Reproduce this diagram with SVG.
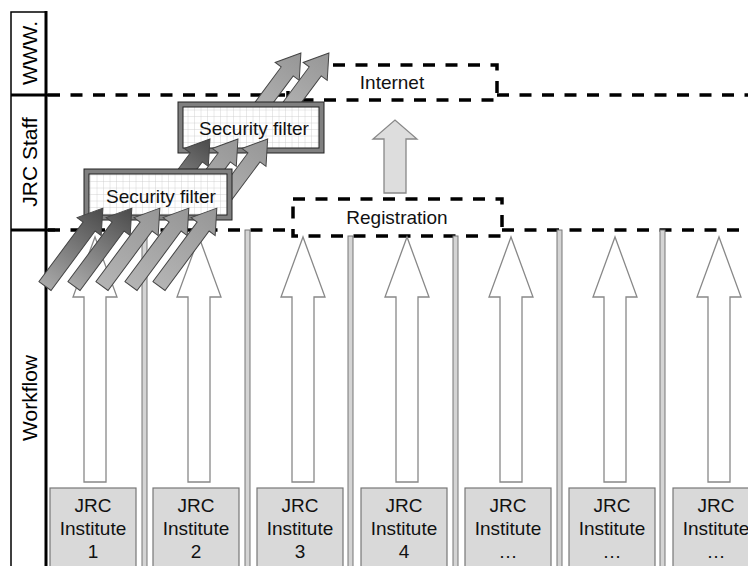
<svg xmlns="http://www.w3.org/2000/svg" xmlns:xlink="http://www.w3.org/1999/xlink" width="748" height="566" viewBox="0 0 748 566">
<style>
text{font-family:"Liberation Sans",Arial,sans-serif;font-size:19px;fill:#111}
.mid{text-anchor:middle}
.lbl{font-size:21px;fill:#000}
.dash{fill:none;stroke:#000;stroke-width:3.5;stroke-dasharray:12 10.5}
.bar{fill:#d4d4d4;stroke:#777;stroke-width:1}
.warrow{fill:#fff;stroke:#888;stroke-width:1.3}
.inst{fill:#d9d9d9;stroke:#777;stroke-width:1.2}
.fout{fill:#808080;stroke:#222;stroke-width:1}
.fin{fill:url(#grid);stroke:#222;stroke-width:1}
.sa{stroke:#444;stroke-width:1}
.dark{fill:url(#gDark)}
.light{fill:url(#gLight)}
</style>
<defs>
<pattern id="grid" width="6.5" height="6.5" patternUnits="userSpaceOnUse">
<rect width="6.5" height="6.5" fill="#fff"/>
<path d="M6.5 0V6.5M0 6.5H6.5" stroke="#c8c8c8" stroke-width="0.8" fill="none"/>
</pattern>
<linearGradient id="gDark" x1="0" y1="0" x2="1" y2="0">
<stop offset="0" stop-color="#a8a8a8"/>
<stop offset="1" stop-color="#4a4a4a"/>
</linearGradient>
<linearGradient id="gLight" x1="0" y1="0" x2="1" y2="0">
<stop offset="0" stop-color="#b4b4b4"/>
<stop offset="1" stop-color="#969696"/>
</linearGradient>
<path id="sa97" d="M0 -7.5H74V-15L97 0L74 15V7.5H0Z"/>
<path id="sa90" d="M0 -7.5H67V-15L90 0L67 15V7.5H0Z"/>
<path id="sa80" d="M0 -7.5H57V-15L80 0L57 15V7.5H0Z"/>
<path id="wa" d="M-11 482V297H-22L0 237L22 297H11V482Z"/>
</defs>

<g id="lanes">
<rect x="11" y="12" width="35" height="560" fill="#fff" stroke="#000" stroke-width="1.5"/>
<line x1="46" y1="11" x2="46" y2="566" stroke="#000" stroke-width="3"/>
<line x1="11" y1="95" x2="48" y2="95" stroke="#000" stroke-width="3"/>
<line x1="11" y1="230" x2="55" y2="230" stroke="#000" stroke-width="3"/>
<text class="mid lbl" transform="translate(36.5,53) rotate(-90)">WWW.</text>
<text class="mid lbl" transform="translate(36.5,162) rotate(-90)">JRC Staff</text>
<text class="mid lbl" transform="translate(36.5,398) rotate(-90)">Workflow</text>
</g>

<g id="connectors">
<path class="dash" d="M48 95H288M497 95H748"/>
<path class="dash" d="M48 230H293M502 230H748"/>
</g>

<g id="internet">
<rect class="dash" x="288" y="65" width="209" height="35"/>
<text class="mid" x="392" y="89">Internet</text>
</g>

<g id="registration">
<rect class="dash" x="293" y="199" width="209" height="37"/>
<text class="mid" x="397" y="224">Registration</text>
</g>

<g id="reg-arrow">
<path d="M384 193V139H373L395 120L417 139H406V193Z" fill="#ddd" stroke="#888" stroke-width="1.3"/>
</g>

<g id="dividers">
<rect class="bar" x="142" y="230" width="5" height="340"/>
<rect class="bar" x="245" y="230" width="5" height="340"/>
<rect class="bar" x="348" y="236" width="5" height="334"/>
<rect class="bar" x="453" y="236" width="5" height="334"/>
<rect class="bar" x="557" y="230" width="5" height="340"/>
<rect class="bar" x="660" y="230" width="5" height="340"/>
</g>

<g id="workflow-arrows">
<use href="#wa" class="warrow" transform="translate(95,0)"/>
<use href="#wa" class="warrow" transform="translate(199,0)"/>
<use href="#wa" class="warrow" transform="translate(303,0)"/>
<use href="#wa" class="warrow" transform="translate(407,0)"/>
<use href="#wa" class="warrow" transform="translate(511,0)"/>
<use href="#wa" class="warrow" transform="translate(615,0)"/>
<use href="#wa" class="warrow" transform="translate(719,0)"/>
</g>

<g id="institute-1"><rect class="inst" x="50" y="488" width="86" height="100"/><text class="mid" x="93" y="512">JRC</text><text class="mid" x="93" y="535">Institute</text><text class="mid" x="93" y="558">1</text></g>
<g id="institute-2"><rect class="inst" x="153" y="488" width="86" height="100"/><text class="mid" x="196" y="512">JRC</text><text class="mid" x="196" y="535">Institute</text><text class="mid" x="196" y="558">2</text></g>
<g id="institute-3"><rect class="inst" x="257" y="488" width="86" height="100"/><text class="mid" x="300" y="512">JRC</text><text class="mid" x="300" y="535">Institute</text><text class="mid" x="300" y="558">3</text></g>
<g id="institute-4"><rect class="inst" x="361" y="488" width="86" height="100"/><text class="mid" x="404" y="512">JRC</text><text class="mid" x="404" y="535">Institute</text><text class="mid" x="404" y="558">4</text></g>
<g id="institute-5"><rect class="inst" x="465" y="488" width="86" height="100"/><text class="mid" x="508" y="512">JRC</text><text class="mid" x="508" y="535">Institute</text><text class="mid" x="508" y="558">…</text></g>
<g id="institute-6"><rect class="inst" x="569" y="488" width="86" height="100"/><text class="mid" x="612" y="512">JRC</text><text class="mid" x="612" y="535">Institute</text><text class="mid" x="612" y="558">…</text></g>
<g id="institute-7"><rect class="inst" x="673" y="488" width="86" height="100"/><text class="mid" x="716" y="512">JRC</text><text class="mid" x="716" y="535">Institute</text><text class="mid" x="716" y="558">…</text></g>

<g id="upload-arrows-top">
<use href="#sa80" class="sa light" transform="translate(253.2,117.2) rotate(-53.4)"/>
<use href="#sa80" class="sa light" transform="translate(281.2,117.2) rotate(-53.4)"/>
</g>

<g id="security-filter-2">
<rect class="fout" x="178" y="102" width="146" height="51"/>
<rect class="fin" x="183" y="107" width="136" height="41"/>
<text class="mid" x="254" y="135">Security filter</text>
</g>

<g id="upload-arrows-mid">
<use href="#sa90" class="sa dark" transform="translate(156.3,211.2) rotate(-53.4)"/>
<use href="#sa90" class="sa light" transform="translate(184.3,211.2) rotate(-53.4)"/>
<use href="#sa90" class="sa light" transform="translate(214,211.2) rotate(-53.4)"/>
</g>

<g id="security-filter-1">
<rect class="fout" x="84" y="169" width="148" height="51"/>
<rect class="fin" x="89" y="174" width="138" height="41"/>
<text class="mid" x="161" y="203">Security filter</text>
</g>

<g id="upload-arrows-low">
<use href="#sa97" class="sa dark" transform="translate(45,286) rotate(-53.4)"/>
<use href="#sa97" class="sa dark" transform="translate(74,286) rotate(-53.4)"/>
<use href="#sa97" class="sa light" transform="translate(102,286) rotate(-53.4)"/>
<use href="#sa97" class="sa light" transform="translate(131,286) rotate(-53.4)"/>
<use href="#sa97" class="sa light" transform="translate(159,286) rotate(-53.4)"/>
</g>
</svg>
